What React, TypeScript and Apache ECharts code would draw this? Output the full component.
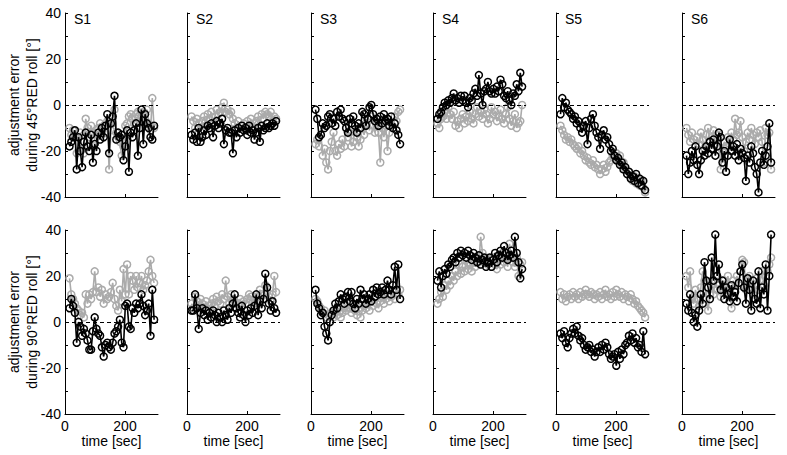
import React, { useEffect, useRef } from "react";
import * as echarts from "echarts";

const times = [15,21,27,33,39,45,51,57,63,69,75,81,87,93,99,105,111,117,123,129,135,141,147,153,159,165,171,177,183,189,195,201,207,213,219,225,231,237,243,249,255,261,267,273,279,285,291,297];

const subjects = ["S1", "S2", "S3", "S4", "S5", "S6"];
const rowTitles = ["adjustment error\nduring 45°RED roll [°]", "adjustment error\nduring 90°RED roll [°]"];
const xName = "time [sec]";
const xLabelValues = [0, 200];
const yLabelValues = [-40, -20, 0, 20, 40];

// 45° RED roll (top row)
const s1TopBlack = [-18,-16,-14,-11,-28,-14,-20,-27,-16,-12,-18,-20,-13,-25,-17,-20,-12,-15,-10,-14,-9,-4,-21,-8,-5,4,-15,-12,-14,-13,-24,-18,-11,-29,-12,-14,-11,-8,-22,-10,-2,-17,-4,-8,-10,-14,-15,-9];
const s1TopGray = [-10,-13,-11,-14,-21,-20,-12,-19,-21,-6,-10,-14,-9,-12,-15,-11,-10,-8,-13,-9,-12,-7,-28,-11,-8,-2,-12,-14,-16,-22,-18,-9,-8,-5,-4,-6,-8,-4,-3,-7,-5,-3,-6,-2,-8,-11,3,-10];
const s2TopBlack = [-13,-15,-12,-16,-10,-16,-14,-11,-13,-9,-10,-8,-14,-9,-7,-10,-8,-6,-17,-11,-10,-12,-12,-21,-11,-14,-10,-12,-9,-11,-10,-13,-9,-12,-11,-15,-12,-10,-16,-9,-11,-10,-8,-10,-9,-8,-9,-7];
const s2TopGray = [-5,-7,-10,-6,-8,-11,-7,-5,-9,-4,-6,-3,-8,-5,-2,-4,-3,-1,1,-3,-2,-4,-3,-6,-8,-10,-7,-12,-9,-8,-11,-7,-9,-6,-10,-8,-7,-5,-9,-4,-6,-3,-4,-5,-3,-7,-5,-6];
const s3TopBlack = [-2,-6,-14,-13,-8,-10,-9,-5,-4,-8,-6,-9,-3,-5,-2,-6,-7,-10,-12,-6,-8,-5,-9,-12,-8,-10,-3,-4,-9,-6,-1,0,-4,-7,-6,-9,-5,-8,-4,-7,-6,-9,-5,-10,-8,-11,-13,-17];
const s3TopGray = [-17,-15,-18,-13,-22,-19,-25,-28,-20,-16,-12,-20,-22,-17,-19,-15,-18,-10,-14,-12,-18,-16,-9,-14,-18,-15,-10,-13,-8,-6,-11,-5,-9,-12,-8,-12,-25,-10,-14,-9,-20,-12,-8,-10,-5,-7,-3,-2];
const s4TopBlack = [-6,-4,-3,-1,1,0,2,1,3,5,2,3,1,4,2,4,1,-1,3,2,5,7,4,13,5,0,6,7,10,6,5,7,5,8,6,11,9,4,3,6,2,0,5,4,9,6,14,8];
const s4TopGray = [-8,-10,-6,-5,-3,-6,-1,-4,-6,-3,-9,-7,-10,-6,-4,-8,-5,-7,-3,-6,-8,-4,-1,-5,-3,-6,-2,-4,-8,-6,-1,-4,-3,-7,-5,-2,-6,-8,-4,-1,-6,-9,-7,-4,-10,-8,-7,0];
const s5TopBlack = [-4,3,-1,1,-2,-3,-4,-6,-5,-8,-7,-10,-12,-9,-7,-17,-10,-6,-4,-9,-12,-14,-19,-13,-11,-15,-14,-17,-20,-19,-22,-24,-23,-26,-25,-28,-27,-30,-29,-32,-31,-33,-30,-34,-32,-35,-33,-37];
const s5TopGray = [-9,-11,-13,-15,-14,-16,-15,-17,-18,-19,-18,-21,-20,-22,-24,-23,-25,-26,-24,-27,-26,-28,-30,-28,-26,-29,-27,-25,-24,-22,-23,-21,-24,-22,-26,-25,-28,-30,-29,-31,-33,-31,-34,-32,-35,-33,-36,-38];
const s6TopBlack = [-22,-30,-25,-20,-24,-18,-26,-30,-24,-20,-22,-18,-21,-16,-19,-15,-22,-18,-12,-14,-25,-20,-29,-22,-15,-20,-18,-22,-17,-24,-19,-21,-23,-33,-22,-25,-18,-21,-27,-30,-38,-25,-20,-26,-22,-18,-8,-25];
const s6TopGray = [-10,-13,-16,-12,-15,-18,-14,-17,-12,-15,-19,-13,-10,-16,-14,-11,-17,-15,-13,-28,-20,-16,-18,-14,-17,-12,-15,-6,-13,-12,-7,-14,-20,-16,-12,-15,-10,-13,-17,-12,-14,-11,-16,-25,-10,-13,-12,-28];

// 90° RED roll (bottom row)
const s1BotBlack = [6,10,7,4,-9,0,-2,-6,-3,-5,-8,-12,-12,-4,2,-3,-5,-6,-11,-15,-10,-9,-11,-12,-9,-5,-4,-2,1,-9,-11,7,8,-2,-3,6,4,8,6,8,12,7,3,5,8,-6,14,1];
const s1BotGray = [19,12,10,8,6,5,3,4,2,12,8,12,10,13,22,13,15,11,14,8,12,10,11,13,17,10,7,5,14,9,23,12,25,12,20,18,14,20,15,17,20,14,16,18,22,27,20,17];
const s2BotBlack = [5,5,12,6,-3,4,6,3,5,1,4,2,5,3,0,4,2,0,5,3,1,6,4,8,12,6,4,2,7,3,0,5,3,6,4,7,12,3,9,6,10,21,15,8,5,9,6,4];
const s2BotGray = [8,6,11,9,7,10,8,6,9,5,7,8,10,7,11,9,8,12,10,18,11,8,12,10,9,6,8,10,7,9,8,10,12,11,9,8,11,9,14,12,10,16,13,11,9,12,20,13];
const s3BotBlack = [14,8,6,3,4,-2,-5,-8,0,3,5,8,6,9,12,10,8,11,13,9,13,8,6,10,8,14,10,12,8,10,12,9,14,11,15,12,13,15,12,14,18,14,12,16,24,14,25,10];
const s3BotGray = [10,9,7,6,4,5,2,3,0,4,2,5,3,6,2,4,6,5,8,6,4,7,5,3,6,2,5,7,6,8,5,9,7,10,8,6,9,11,8,10,12,9,11,13,10,14,12,14];
const s4BotBlack = [18,22,15,20,23,21,25,24,27,28,26,30,28,31,29,30,28,31,29,27,30,28,26,29,25,27,28,24,26,28,24,27,30,26,29,31,28,33,30,27,29,31,28,37,30,26,19,23];
const s4BotGray = [8,10,13,11,16,14,18,16,20,18,22,20,25,21,24,22,27,23,25,22,26,24,28,26,37,30,26,28,25,27,24,28,25,23,27,25,30,26,28,24,34,28,26,24,28,20,25,26];
const s5BotBlack = [-5,-7,-4,-9,-11,-7,-5,-3,-5,-2,-6,-8,-7,-10,-12,-11,-10,-13,-12,-15,-13,-11,-13,-10,-12,-9,-11,-14,-16,-15,-14,-19,-13,-16,-12,-14,-10,-9,-6,-8,-5,-9,-7,-11,-10,-13,-4,-14];
const s5BotGray = [13,10,12,9,11,12,10,13,11,12,10,13,11,12,14,12,11,13,12,10,12,11,13,10,12,14,11,12,10,13,11,14,12,11,13,10,12,11,9,12,10,8,9,7,6,5,4,2];
const s6BotBlack = [8,5,12,4,0,3,-2,5,12,8,26,18,15,10,28,18,38,20,25,14,18,10,15,12,9,16,11,13,9,17,22,25,15,8,19,14,5,18,10,8,22,6,15,12,25,5,20,38];
const s6BotGray = [20,15,22,10,8,14,10,7,15,22,18,10,5,12,18,12,20,14,16,11,14,18,12,20,14,6,18,14,20,16,22,27,26,14,18,20,15,12,16,19,14,18,22,16,20,22,25,28];

const topBlack = [s1TopBlack, s2TopBlack, s3TopBlack, s4TopBlack, s5TopBlack, s6TopBlack];
const topGray = [s1TopGray, s2TopGray, s3TopGray, s4TopGray, s5TopGray, s6TopGray];
const botBlack = [s1BotBlack, s2BotBlack, s3BotBlack, s4BotBlack, s5BotBlack, s6BotBlack];
const botGray = [s1BotGray, s2BotGray, s3BotGray, s4BotGray, s5BotGray, s6BotGray];

const FONT = '"Liberation Sans", Arial, Helvetica, sans-serif';
const colLefts = [65, 187, 311, 433, 556, 682];
const gridW = 93;
const rowTops = [13, 230];
const gridH = 184;
const BLACK = "#000000";
const GRAY = "#ababab";

function buildOption() {
  const grid: any[] = [];
  const xAxis: any[] = [];
  const yAxis: any[] = [];
  const series: any[] = [];
  const graphic: any[] = [];
  for (let r = 0; r < 2; r++) {
    for (let c = 0; c < 6; c++) {
      const g = r * 6 + c;
      grid.push({ left: colLefts[c], top: rowTops[r], width: gridW, height: gridH, containLabel: false });
      xAxis.push({
        gridIndex: g, type: "value", min: 0, max: 310,
        axisLine: { show: true, onZero: false, lineStyle: { color: BLACK, width: 1 } },
        axisTick: { show: true, inside: true, length: 3, customValues: xLabelValues, lineStyle: { color: BLACK } },
        axisLabel: { show: r === 1, customValues: xLabelValues, margin: 5, color: BLACK, fontSize: 14, fontFamily: FONT },
        splitLine: { show: false },
        name: r === 1 ? xName : "", nameLocation: "middle", nameGap: 14,
        nameTextStyle: { color: BLACK, fontSize: 14, fontFamily: FONT, verticalAlign: "top" },
      });
      yAxis.push({
        gridIndex: g, type: "value", min: -40, max: 40, interval: 10,
        axisLine: { show: true, onZero: false, lineStyle: { color: BLACK, width: 1 } },
        axisTick: { show: true, inside: true, length: 3, lineStyle: { color: BLACK } },
        axisLabel: {
          show: c === 0, margin: 4, color: BLACK, fontSize: 14, fontFamily: FONT,
          formatter: (v: number) => (yLabelValues.indexOf(v) >= 0 ? String(v) : ""),
        },
        splitLine: { show: false },
      });
      const black = r === 0 ? topBlack[c] : botBlack[c];
      const gray = r === 0 ? topGray[c] : botGray[c];
      const mk = (arr: number[], color: string, withMark: boolean) => ({
        type: "line", xAxisIndex: g, yAxisIndex: g,
        data: times.map((t, i) => [t, arr[i]]),
        symbol: "circle", symbolSize: 7, showSymbol: true,
        lineStyle: { color, width: 1.6 },
        itemStyle: { color: "rgba(0,0,0,0)", borderColor: color, borderWidth: 1.5 },
        z: color === BLACK ? 3 : 2,
        silent: true,
        markLine: withMark ? {
          silent: true, symbol: ["none", "none"], label: { show: false },
          lineStyle: { color: BLACK, type: [4, 3], width: 1 },
          data: [{ yAxis: 0 }],
        } : undefined,
      });
      series.push(mk(gray, GRAY, true));
      series.push(mk(black, BLACK, false));
      if (r === 0) {
        graphic.push({
          type: "text", left: colLefts[c] + 9, top: 12,
          style: { text: subjects[c], fill: BLACK, font: `14px ${FONT}` },
        });
      }
    }
    graphic.push({
      type: "text", x: 23, y: rowTops[r] + gridH / 2, rotation: Math.PI / 2,
      style: { text: rowTitles[r], fill: BLACK, font: `14px ${FONT}`, align: "center", verticalAlign: "middle", lineHeight: 18 },
    });
  }
  return { animation: false, backgroundColor: "#ffffff", grid, xAxis, yAxis, series, graphic };
}

export default function App() {
  const ref = useRef<HTMLDivElement>(null);
  useEffect(() => {
    if (!ref.current) return;
    const chart = echarts.init(ref.current, undefined, { renderer: "svg" });
    chart.setOption(buildOption() as any);
    return () => chart.dispose();
  }, []);
  return <div ref={ref} style={{ position: "absolute", left: 0, top: 0, width: 787, height: 455, background: "#fff" }} />;
}
